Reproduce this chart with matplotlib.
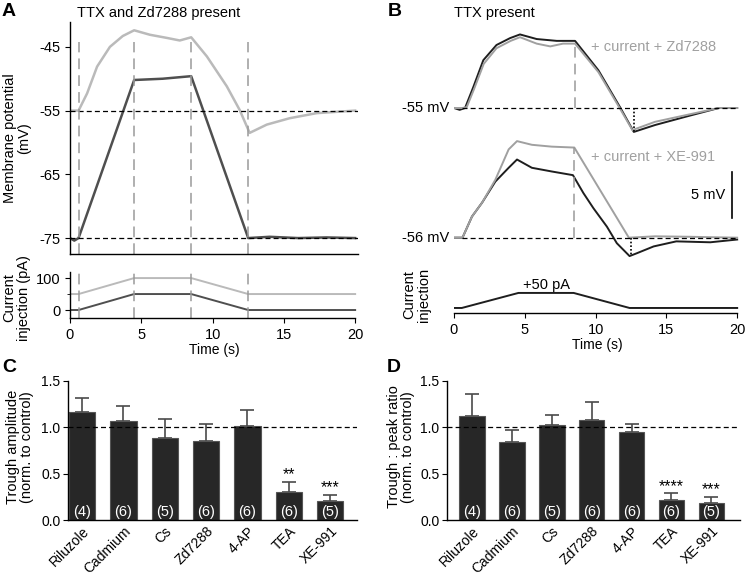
import matplotlib.pyplot as plt
import numpy as np

plt.rcParams['font.family'] = ['Liberation Sans', 'DejaVu Sans']
plt.rcParams['font.size'] = 10
plt.rcParams['axes.linewidth'] = 1.0
plt.rcParams['axes.unicode_minus'] = False
plt.rcParams['xtick.labelsize'] = 10.5
plt.rcParams['ytick.labelsize'] = 10.5

# ---- Panel A: membrane potential (s, mV) ----
a_light_t = [0, 0.6, 1.2, 1.9, 2.8, 3.7, 4.5, 5.6, 6.8, 7.7, 8.5, 9.6, 11.0, 11.9, 12.6, 13.8, 15.4, 17.3, 20]
a_light_v = [-55, -55, -52.3, -48.1, -45, -43.3, -42.4, -43.1, -43.6, -44, -43.5, -46.5, -51.2, -54.9, -58.5, -57.2, -56.2, -55.4, -55]
a_dark_t = [0, 0.3, 0.6, 4.5, 6.5, 8.5, 12.5, 14, 16, 18, 20]
a_dark_v = [-75, -75.4, -75, -50.2, -50, -49.6, -75, -74.8, -75, -74.9, -75]
a_inj_t = [0, 0.6, 4.5, 8.5, 12.5, 20]
a_inj_light = [50, 50, 100, 100, 50, 50]
a_inj_dark = [0, 0, 50, 50, 0, 0]
a_marks = [0.6, 4.5, 8.5, 12.5]

# ---- Panel B: traces relative to baseline (mV) ----
b_up_dark_t = [0, 0.4, 0.78, 1.37, 2.07, 3.0, 3.96, 4.66, 5.84, 7.26, 8.55, 10.2, 11.76, 12.7, 14.2, 16.6, 18.7, 20]
b_up_dark_v = [0, -0.2, 0, 2.3, 5.2, 6.85, 7.6, 8.0, 7.5, 7.3, 7.3, 4.1, 0, -2.6, -1.85, -0.85, 0, 0]
b_up_gray_t = [0, 0.6, 0.9, 1.4, 2.1, 3.0, 4.0, 4.66, 5.84, 6.8, 7.7, 8.55, 10.2, 11.7, 12.6, 14.2, 16.6, 18.7, 20]
b_up_gray_v = [0, 0, 0.1, 2.0, 4.8, 6.5, 7.3, 7.7, 7.0, 6.7, 7.0, 7.0, 3.9, 0, -2.4, -1.5, -0.7, 0, 0]
b_lo_gray_t = [0, 0.6, 1.27, 1.98, 2.92, 3.86, 4.45, 5.5, 6.9, 8.5, 12.35, 14.2, 16.6, 20]
b_lo_gray_v = [0, 0, 2.3, 3.8, 6.3, 9.6, 10.5, 10.1, 9.9, 9.8, 0, 0.15, 0.1, 0]
b_lo_dark_t = [0, 0.6, 1.27, 1.98, 2.92, 3.86, 4.45, 5.5, 6.9, 8.4, 9.14, 9.85, 10.8, 11.5, 12.4, 12.9, 14.1, 15.7, 18.1, 20]
b_lo_dark_v = [0, 0, 2.3, 3.8, 6.1, 7.6, 8.5, 7.6, 7.2, 6.8, 4.85, 3.2, 1.2, -0.6, -2.0, -1.7, -0.95, -0.4, -0.5, -0.2]
b_inj_t = [0, 0.55, 4.55, 8.45, 12.4, 20]
b_inj_i = [0, 0, 50, 50, 0, 0]

# ---- Panels C, D ----
drugs = ['Riluzole', 'Cadmium', 'Cs', 'Zd7288', '4-AP', 'TEA', 'XE-991']
n_cells = [4, 6, 5, 6, 6, 6, 5]
trough_amp = [1.17, 1.065, 0.89, 0.855, 1.01, 0.30, 0.21]
trough_amp_err = [0.15, 0.165, 0.195, 0.185, 0.18, 0.11, 0.065]
trough_peak = [1.125, 0.845, 1.03, 1.08, 0.953, 0.216, 0.187]
trough_peak_err = [0.235, 0.125, 0.10, 0.19, 0.083, 0.072, 0.065]
stars_c = ['', '', '', '', '', '**', '***']
stars_d = ['', '', '', '', '', '****', '***']

W, H = 745, 577
fig = plt.figure(figsize=(W / 100, H / 100), dpi=100)


def box(l, t, r, b):
    return [l / W, 1 - b / H, (r - l) / W, (b - t) / H]


LIGHT, DARK = '#bababa', '#4f4f4f'
DASHG = '#9a9a9a'

# Panel A top
ax = fig.add_axes(box(70, 22, 358, 254))
ax.plot(a_light_t, a_light_v, color=LIGHT, lw=1.8)
ax.plot(a_dark_t, a_dark_v, color=DARK, lw=1.8)
ax.axhline(-55, color='k', lw=0.9, ls=(0, (4, 2.5)))
ax.axhline(-75, color='k', lw=0.9, ls=(0, (4, 2.5)))
for m in a_marks:
    ax.plot([m, m], [-77.5, -44.2], color=DASHG, lw=1.1, ls=(0, (7, 4)))
ax.set_xlim(0, 20.2)
ax.set_ylim(-77.5, -41.1)
ax.set_yticks([-45, -55, -65, -75])
ax.set_xticks([])
ax.spines[['top', 'right']].set_visible(False)

# Panel A injection
ax = fig.add_axes(box(70, 272, 358, 318))
ax.plot(a_inj_t, a_inj_light, color=LIGHT, lw=1.4)
ax.plot(a_inj_t, a_inj_dark, color=DARK, lw=1.4)
for m in a_marks:
    ax.plot([m, m], [-25, 119], color=DASHG, lw=1.1, ls=(0, (7, 4)))
ax.set_xlim(0, 20.2)
ax.set_ylim(-25, 119)
ax.set_yticks([0, 100])
ax.set_yticks([50], minor=True)
ax.set_xticks([0, 5, 10, 15, 20])
ax.spines[['top', 'right']].set_visible(False)
ax.spines['bottom'].set_bounds(0, 20)
ax.set_xlabel('Time (s)', labelpad=1)

# Panel B traces
LO = -14.1
BG, BD = '#a0a0a0', '#1e1e1e'
ax = fig.add_axes(box(454, 20, 740, 265))
ax.plot(b_up_dark_t, b_up_dark_v, color=BD, lw=1.4)
ax.plot(b_up_gray_t, b_up_gray_v, color=BG, lw=1.4)
ax.plot(b_lo_dark_t, np.array(b_lo_dark_v) + LO, color=BD, lw=1.4)
ax.plot(b_lo_gray_t, np.array(b_lo_gray_v) + LO, color=BG, lw=1.4)
ax.plot([0.6, 20], [0, 0], color='k', lw=0.9, ls=(0, (4, 2.5)))
ax.plot([0.6, 20], [LO, LO], color='k', lw=0.9, ls=(0, (4, 2.5)))
ax.plot([8.55, 8.55], [0, 7.3], color=DASHG, lw=1.1, ls=(0, (7, 4)))
ax.plot([8.45, 8.45], [LO, LO + 9.9], color=DASHG, lw=1.1, ls=(0, (7, 4)))
ax.plot([12.7, 12.7], [0, -2.5], color='k', lw=1.2, ls=(0, (1, 1.2)))
ax.plot([12.5, 12.5], [LO, LO - 2.0], color='k', lw=1.2, ls=(0, (1, 1.2)))
ax.plot([19.6, 19.6], [-6.92, -11.99], color='k', lw=1.2)
ax.text(19.15, -9.46, '5 mV', ha='right', va='center', fontsize=10.5)
ax.text(-0.35, 0, '-55 mV', ha='right', va='center', fontsize=10.5)
ax.text(-0.35, LO, '-56 mV', ha='right', va='center', fontsize=10.5)
ax.text(9.7, 6.67, '+ current + Zd7288', color=BG, va='center', fontsize=10.5)
ax.text(9.7, -5.29, '+ current + XE-991', color=BG, va='center', fontsize=10.5)
ax.set_xlim(0, 20.2)
ax.set_ylim(-17.07, 9.57)
ax.axis('off')

# Panel B injection
ax = fig.add_axes(box(454, 280, 740, 313))
ax.plot(b_inj_t, b_inj_i, color=BD, lw=1.4)
ax.text(6.5, 75, '+50 pA', ha='center', va='center', fontsize=10.5)
ax.set_xlim(0, 20.2)
ax.set_ylim(-16.7, 93)
ax.set_yticks([])
ax.set_xticks([0, 5, 10, 15, 20])
ax.spines[['top', 'right', 'left']].set_visible(False)
ax.spines['bottom'].set_bounds(0, 20)
ax.set_xlabel('Time (s)', labelpad=1)


def bars(ax, vals, errs, stars, xl):
    x = np.arange(len(drugs))
    ax.bar(x, vals, width=0.64, color='#272727', edgecolor='#555555', lw=0.8, zorder=2)
    ax.errorbar(x, vals, yerr=[np.zeros(len(vals)), errs], fmt='none',
                ecolor='#4a4a4a', elinewidth=1.2, capsize=5, capthick=1.2, zorder=1)
    for xi, v, e, s, n in zip(x, vals, errs, stars, n_cells):
        if s:
            ax.text(xi, v + e - 0.005, s, ha='center', va='bottom', fontsize=11.5)
        ax.text(xi, 0.09, f'({n})', ha='center', va='center', color='white', zorder=3, fontsize=10.5)
    ax.axhline(1.0, color='k', lw=0.9, ls=(0, (4, 2.5)), zorder=3)
    ax.set_xlim(*xl)
    ax.set_ylim(0, 1.5)
    ax.set_yticks([0, 0.5, 1.0, 1.5])
    ax.set_yticklabels(['0.0', '0.5', '1.0', '1.5'])
    ax.set_xticks(x)
    ax.set_xticklabels(drugs, rotation=45, ha='right', rotation_mode='anchor', fontsize=10)
    ax.tick_params(axis='x', length=0, pad=3)
    ax.tick_params(axis='y', labelsize=10, pad=2)
    ax.spines[['top', 'right']].set_visible(False)


ax = fig.add_axes(box(68, 381, 357, 520))
bars(ax, trough_amp, trough_amp_err, stars_c, (-0.34, 6.65))
ax = fig.add_axes(box(447, 381, 740, 520))
bars(ax, trough_peak, trough_peak_err, stars_d, (-0.63, 6.72))

# Labels
lab = dict(rotation=90, ha='center', va='center', fontsize=10.5, linespacing=1.05)
fig.text(17 / W, 1 - 138 / H, 'Membrane potential\n(mV)', **lab)
fig.text(17 / W, 1 - 298 / H, 'Current\ninjection (pA)', **lab)
fig.text(417 / W, 1 - 295 / H, 'Current\ninjection', **lab)
fig.text(20 / W, 1 - 447 / H, 'Trough amplitude\n(norm. to control)', **lab)
fig.text(401 / W, 1 - 447 / H, 'Trough : peak ratio\n(norm. to control)', **lab)
fig.text(77 / W, 1 - 13 / H, 'TTX and Zd7288 present', va='center', fontsize=10.5)
fig.text(454 / W, 1 - 13 / H, 'TTX present', va='center', fontsize=10.5)
for s, x, y in [('A', 2, 12), ('B', 388, 12), ('C', 2, 368), ('D', 387, 368)]:
    fig.text(x / W, 1 - y / H, s, fontsize=14, fontweight='bold', va='center')

fig.savefig('out.png', dpi=100)
